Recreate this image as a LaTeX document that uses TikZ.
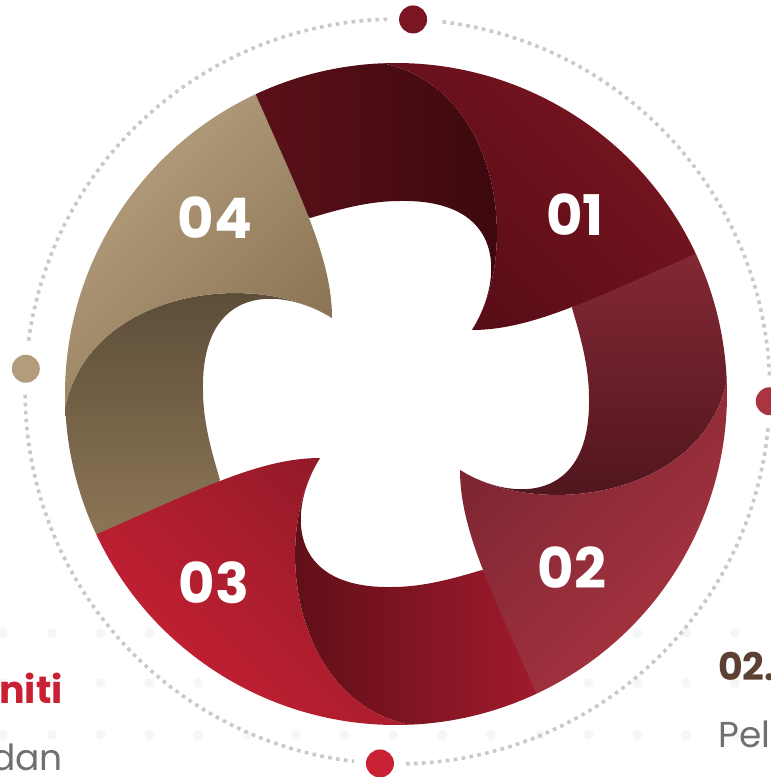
\documentclass[tikz,border=0pt]{standalone}
\usepackage{fontspec}
\setmainfont{Poppins}
\usepackage{tikz}
\usetikzlibrary{calc}

\definecolor{tanlight}{HTML}{B7A180}
\definecolor{tandark}{HTML}{8A7352}
\definecolor{tanfold}{HTML}{584A36}
\definecolor{tanfoldlight}{HTML}{8E7756}
\definecolor{wine}{HTML}{7A1621}
\definecolor{winedark}{HTML}{560C16}
\definecolor{winefold}{HTML}{3A080D}
\definecolor{winefoldlight}{HTML}{5C1019}
\definecolor{rose}{HTML}{AA3541}
\definecolor{rosedark}{HTML}{7C2532}
\definecolor{rosefold}{HTML}{4C141B}
\definecolor{rosefoldlight}{HTML}{852936}
\definecolor{scarlet}{HTML}{C92134}
\definecolor{scarletdark}{HTML}{921A28}
\definecolor{scarletfold}{HTML}{5A0E16}
\definecolor{scarletfoldlight}{HTML}{A31B2D}
\definecolor{ringgray}{HTML}{C9C9C9}
\definecolor{bgdot}{HTML}{F6F6F6}
\definecolor{headbrown}{HTML}{5C4033}
\definecolor{bodygray}{HTML}{707070}

% the 04 petal, the others are the same one rotated
\newcommand{\petalfold}{(182.2:331) .. controls (-305,105) and (-140,125) .. (-64,76)
  .. controls (-115,108) and (-195,110) .. (-193,4)
  .. controls (-193,-30) and (-183,-62) .. (-176,-86)
  -- (-230,-150) -- (205.1:331) arc[start angle=205.1, end angle=182.2, radius=331] -- cycle}
\newcommand{\petalmain}{(115.1:331) arc[start angle=115.1, end angle=182.2, radius=331]
  .. controls (-305,105) and (-140,125) .. (-64,76)
  .. controls (-64,136) and (-96,198) .. (115.1:331) -- cycle}

\tikzset{
  numlabel/.style={text=white, font=\fontsize{56}{60}\selectfont\bfseries},
  ringdot/.style={circle, inner sep=0pt, minimum size=28pt},
  dotring/.style={ringgray, line width=3.6pt, dash pattern=on 3.6pt off 4.4pt}
}

\begin{document}
\begin{tikzpicture}[x=1pt, y=1pt]
\useasboundingbox (-396,-383) rectangle (375,394);

% faint dots in the background
\foreach \row in {-239,-289,-341}
  \foreach \col in {0,...,15}
    \fill[bgdot] (-393+48.8*\col, \row) circle (5);

% dotted ring
\coordinate (ring) at (1.5,2.5);
\draw[dotring] ($(ring)+(91.6:372.4)$) arc[start angle=91.6, end angle=172.5, radius=372.4];
\draw[dotring] ($(ring)+(180.5:372.4)$) arc[start angle=180.5, end angle=263.3, radius=372.4];
\draw[dotring] ($(ring)+(271.3:372.4)$) arc[start angle=271.3, end angle=354.5, radius=372.4];
\draw[dotring] ($(ring)+(2.5:372.4)$) arc[start angle=2.5, end angle=83.6, radius=372.4];

\node[ringdot, fill=wine] (dotTop) at ($(ring)+(87.6:372.4)$) {};
\node[ringdot, fill=tanlight!90!tandark] (dotLeft) at ($(ring)+(176.5:372.4)$) {};
\node[ringdot, fill=scarlet] (dotBottom) at ($(ring)+(267.3:372.4)$) {};
\node[ringdot, fill=rose] (dotRight) at ($(ring)+(358.5:372.4)$) {};

% folds first
\shade[top color=tanfold, bottom color=tanfoldlight, shading angle=0] \petalfold;
\shade[rotate=-90, top color=winefold, bottom color=winefoldlight, shading angle=-90] \petalfold;
\shade[rotate=180, top color=rosefold, bottom color=rosefoldlight, shading angle=180] \petalfold;
\shade[rotate=90, top color=scarletfold, bottom color=scarletfoldlight, shading angle=90] \petalfold;

% main pieces on top
\shade[top color=tanlight, bottom color=tandark, shading angle=45] \petalmain;
\shade[rotate=-90, top color=wine, bottom color=winedark, shading angle=-45] \petalmain;
\shade[rotate=180, top color=rose, bottom color=rosedark, shading angle=-135] \petalmain;
\shade[rotate=90, top color=scarlet, bottom color=scarletdark, shading angle=135] \petalmain;

\node[numlabel] (lbl04) at (-181,176) {04};
\node[numlabel] (lbl01) at (179,179) {01};
\node[numlabel] (lbl02) at (176,-174) {02};
\node[numlabel] (lbl03) at (-182,-189) {03};

% cut off text at the sides
\node[anchor=base east, inner sep=0pt, text=scarlet, font=\fontsize{38}{40}\selectfont\bfseries] (headLeft) at (-333,-309) {niti};
\node[anchor=base east, inner sep=0pt, text=bodygray, font=\fontsize{36}{40}\selectfont] (bodyLeft) at (-333,-376) {dan};
\node[anchor=base west, inner sep=0pt, text=headbrown, font=\fontsize{38}{40}\selectfont\bfseries] (headRight) at (322,-286) {02.};
\node[anchor=base west, inner sep=0pt, text=bodygray, font=\fontsize{36}{40}\selectfont] (bodyRight) at (322,-353) {Pel};
\end{tikzpicture}
\end{document}
